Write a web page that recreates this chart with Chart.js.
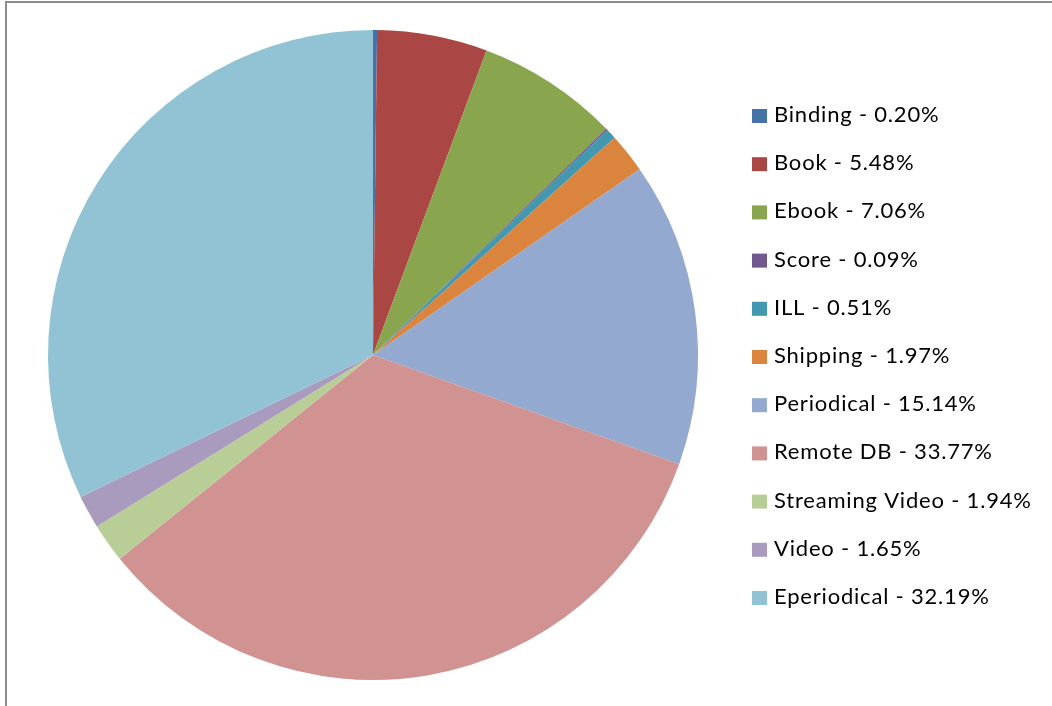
<!DOCTYPE html>
<html>
<head>
<meta charset="utf-8">
<script src="https://cdn.jsdelivr.net/npm/chart.js@4/dist/chart.umd.min.js"></script>
<style>
  html, body { margin: 0; padding: 0; background: #fff; }
  #wrap { position: relative; width: 1052px; height: 706px; }
  #frame { position: absolute; left: 5px; top: 1px; right: -4px; bottom: -4px;
           border-left: 2px solid #8c8c8c; border-top: 2px solid #8c8c8c; }
  canvas { position: absolute; left: 0; top: 0; }
</style>
</head>
<body>
<div id="wrap">
  <div id="frame"></div>
  <canvas id="c" width="1052" height="706"></canvas>
</div>
<script>
// Spending share by category (percent of total)
const categories = ['Binding', 'Book', 'Ebook', 'Score', 'ILL', 'Shipping', 'Periodical',
  'Remote DB', 'Streaming Video', 'Video', 'Eperiodical'];
const shares = [0.20, 5.48, 7.06, 0.09, 0.51, 1.97, 15.14, 33.77, 1.94, 1.65, 32.19];
const sliceColors = ['#4572A7', '#AA4643', '#89A54E', '#71588F', '#4198AF', '#DB843D',
  '#93A9CF', '#D19392', '#B9CD96', '#A99BBD', '#92C3D4'];

const legendText = categories.map((c, i) => c + ' - ' + shares[i].toFixed(2) + '%');

// Legend drawn at the right, one row per slice
const sideLegend = {
  id: 'sideLegend',
  afterDraw(chart) {
    const ctx = chart.ctx;
    const x0 = 752, y0 = 115, step = 48.2;
    ctx.save();
    ctx.font = '22px "Lato", "Open Sans", sans-serif';
    ctx.letterSpacing = '0.8px';
    ctx.textBaseline = 'alphabetic';
    ctx.textAlign = 'left';
    legendText.forEach((t, i) => {
      const y = y0 + i * step;
      ctx.fillStyle = sliceColors[i];
      ctx.fillRect(x0, y - 6, 15, 14);
      ctx.fillStyle = '#000';
      ctx.fillText(t, x0 + 22, y + 7);
    });
    ctx.restore();
  }
};

new Chart(document.getElementById('c'), {
  type: 'pie',
  data: {
    labels: categories,
    datasets: [{
      data: shares,
      backgroundColor: sliceColors,
      borderWidth: 0
    }]
  },
  options: {
    responsive: false,
    animation: false,
    layout: { padding: { left: 48, top: 30, right: 354, bottom: 26 } },
    plugins: {
      legend: { display: false },
      tooltip: { enabled: false }
    }
  },
  plugins: [sideLegend]
});
</script>
</body>
</html>
